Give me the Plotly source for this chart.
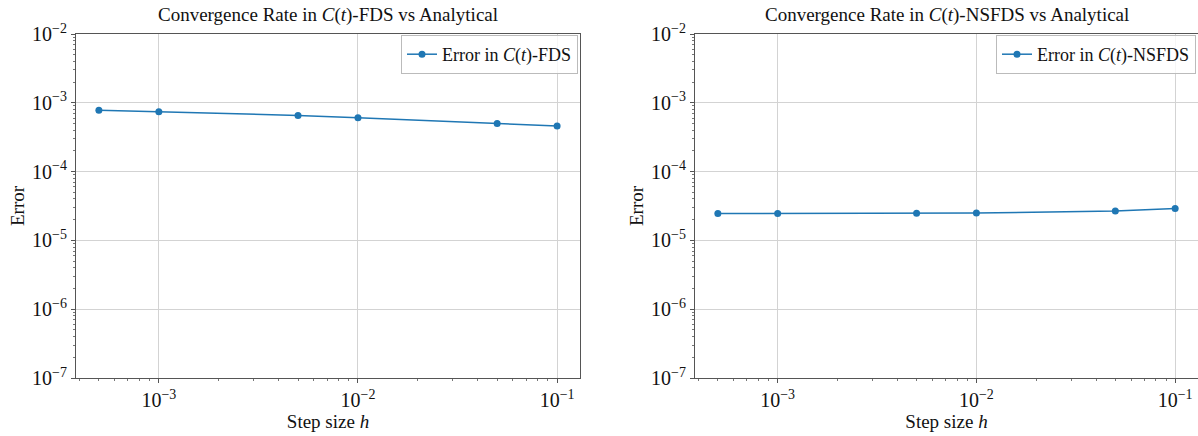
import plotly.graph_objects as go

h_values = [0.0005, 0.001, 0.005, 0.01, 0.05, 0.1]
err_fds = [7.8e-4, 7.4e-4, 6.55e-4, 6.05e-4, 5.0e-4, 4.6e-4]
err_nsfds = [2.46e-5, 2.47e-5, 2.48e-5, 2.50e-5, 2.67e-5, 2.90e-5]

titles = ["Convergence Rate in <i>C</i>(<i>t</i>)-FDS vs Analytical",
          "Convergence Rate in <i>C</i>(<i>t</i>)-NSFDS vs Analytical"]
legend_names = ["Error in <i>C</i>(<i>t</i>)-FDS", "Error in <i>C</i>(<i>t</i>)-NSFDS"]
y_exponents = [-7, -6, -5, -4, -3, -2]
x_exponents = [-3, -2, -1]

W, H = 1198, 436
FONT = "Liberation Serif"
BLUE = "#1f77b4"


def pow_label(e):
    return "10<sup>\u2212%d</sup>" % abs(e) if e < 0 else "10<sup>%d</sup>" % e


fig = go.Figure()

x_domains = [[76 / W, 580 / W], [695 / W, 1.0]]
y_domain = [1 - 378 / H, 1 - 34 / H]

for i, (errs, name) in enumerate(zip([err_fds, err_nsfds], legend_names)):
    sfx = "" if i == 0 else "2"
    fig.add_trace(go.Scatter(
        x=h_values, y=errs, mode="lines+markers", name=name,
        line=dict(color=BLUE, width=1.5),
        marker=dict(color=BLUE, size=7),
        xaxis="x" + sfx, yaxis="y" + sfx,
        legend="legend" + sfx,
    ))

axis_common = dict(
    type="log", showline=True, mirror=True, linecolor="#555555", linewidth=1,
    ticks="outside", ticklen=4, tickcolor="#555555",
    showgrid=True, gridcolor="#d3d3d3", gridwidth=1,
    zeroline=False, automargin=False,
    tickfont=dict(family=FONT, size=20, color="#111"),
    minor=dict(ticks="outside", ticklen=2, tickcolor="#777", showgrid=False, dtick="D1"),
)

layout = dict(
    width=W, height=H, margin=dict(l=0, r=0, t=0, b=0),
    paper_bgcolor="white", plot_bgcolor="white",
    font=dict(family=FONT, size=18, color="#111"),
    showlegend=True,
)

for i in range(2):
    sfx = "" if i == 0 else "2"
    xa = dict(axis_common, domain=x_domains[i],
              range=[-3.416, -0.885],
              tickvals=[10.0 ** e for e in x_exponents],
              ticktext=[pow_label(e) for e in x_exponents],
              anchor="y" + sfx,
              title=dict(text="Step size <i>h</i>", font=dict(family=FONT, size=19), standoff=4))
    ya = dict(axis_common, domain=y_domain, range=[-7, -2],
              tickvals=[10.0 ** e for e in y_exponents],
              ticktext=[pow_label(e) for e in y_exponents],
              anchor="x" + sfx,
              title=dict(text="Error", font=dict(family=FONT, size=19), standoff=2))
    layout["xaxis" + sfx] = xa
    layout["yaxis" + sfx] = ya
    layout["legend" + sfx] = dict(
        x=x_domains[i][1] - 2 / W, y=y_domain[1] - 1 / H, xanchor="right", yanchor="top",
        bgcolor="rgba(255,255,255,0.8)", bordercolor="#bbbbbb", borderwidth=1,
        font=dict(family=FONT, size=18, color="#111"),
        tracegroupgap=0,
    )

fig.update_layout(**layout)

for i in range(2):
    fig.add_annotation(
        text=titles[i], xref="paper", yref="paper",
        x=(x_domains[i][0] + (580 / W if i == 0 else 1199 / W)) / 2, y=1 - 15 / H,
        xanchor="center", yanchor="middle", showarrow=False,
        font=dict(family=FONT, size=19, color="#111"),
    )

fig.write_html("out.html")
